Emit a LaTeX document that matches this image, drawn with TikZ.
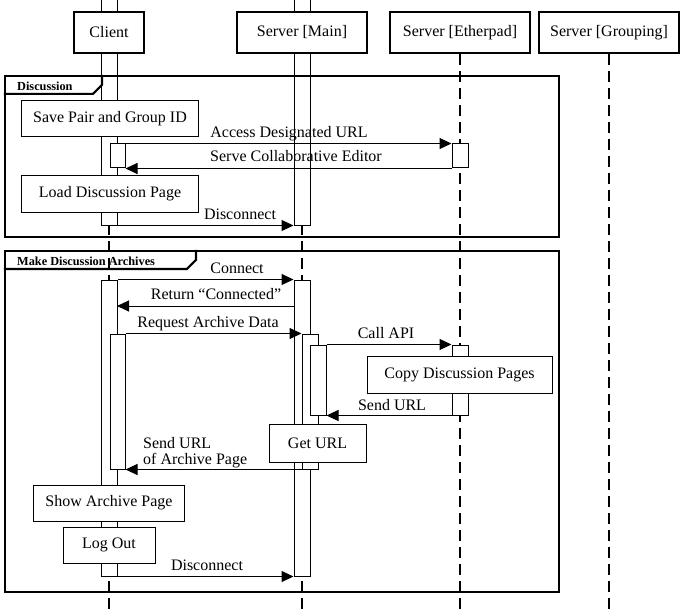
\documentclass[tikz,border=0pt]{standalone}
\usepackage{fontspec}
\setmainfont{Liberation Serif}
\usetikzlibrary{arrows.meta,fit}
\begin{document}
\begin{tikzpicture}[x=1bp,y=-1bp,
  lifeline/.style={line width=1.1bp, dash pattern=on 11bp off 6bp},
  bar/.style={draw, fill=white, line width=1bp, inner sep=0pt},
  frame/.style={draw, line width=2.1bp, inner sep=0pt},
  tabline/.style={line width=2.1bp},
  head/.style={draw, fill=white, line width=2.2bp, inner sep=0pt, font=\fontsize{16bp}{19bp}\selectfont, minimum height=41bp},
  act/.style={draw, fill=white, line width=1bp, inner sep=0pt, font=\fontsize{16bp}{19bp}\selectfont},
  msg/.style={line width=1bp, -{Triangle[length=12bp,width=11bp]}},
  lbl/.style={inner sep=0pt, font=\fontsize{16bp}{19bp}\selectfont, anchor=base},
  tabtext/.style={inner sep=0pt, font=\fontsize{12.3bp}{14bp}\selectfont\bfseries, anchor=west}
]
\useasboundingbox (0,0) rectangle (685,611);

% header box positions (drawn later)
\path (109,32.5) node[head, minimum width=70bp, draw=none, fill=none] (hC) {\phantom{Client}};
\path (302,32.5) node[head, minimum width=130bp, draw=none, fill=none] (hM) {\phantom{Server}};
\path (460,32.5) node[head, minimum width=140bp, draw=none, fill=none] (hE) {\phantom{Server}};
\path (609,32.5) node[head, minimum width=140bp, draw=none, fill=none] (hG) {\phantom{Server}};

% lifeline ends
\coordinate (eC) at (109,615);
\coordinate (eM) at (302,615);
\coordinate (eE) at (460,615);
\coordinate (eG) at (609,615);

% lifelines
\draw[lifeline] (hC.south) -- (eC);
\draw[lifeline] (hM.south) -- (eM);
\draw[lifeline] (hE.south) -- (eE);
\draw[lifeline] (hG.south) -- (eG);

% activation bars - Discussion
\node[bar, fit={(101,-4) (117,225)}] (bC1) {};
\node[bar, fit={(294,-4) (310,225)}] (bM1) {};
\node[bar, fit={(110,144) (125,168)}] (bCn1) {};
\node[bar, fit={(452,144) (468,168)}] (bE1) {};

% activation bars - Make Discussion Archives
\node[bar, fit={(101,280) (117,576)}] (bC2) {};
\node[bar, fit={(294,280) (310,576)}] (bM2) {};
\node[bar, fit={(110,334) (125,469)}] (bCn2) {};
\node[bar, fit={(302,334) (318,469)}] (bMn1) {};
\node[bar, fit={(310,345) (326,415)}] (bMn2) {};
\node[bar, fit={(452,345) (468,415)}] (bE2) {};

% frames
\node[frame, fit={(5,76) (559,237)}] (fr1) {};
\draw[tabline] (fr1.north west) ++(0,19) -- ++(89,0) -- ++(9,-9) -- ++(0,-10);
\node[tabtext] (t1) at (17,86) {Discussion};

\node[frame, fit={(5,251) (559,592)}] (fr2) {};
\draw[tabline] (fr2.north west) ++(0,19) -- ++(183,0) -- ++(9,-9) -- ++(0,-10);
\node[tabtext] (t2) at (17,261) {Make Discussion Archives};

% header boxes
\node[head, minimum width=70bp] (hC2) at (hC) {Client};
\node[head, minimum width=130bp] (hM2) at (hM) {Server [Main]};
\node[head, minimum width=140bp] (hE2) at (hE) {Server [Etherpad]};
\node[head, minimum width=140bp] (hG2) at (hG) {Server [Grouping]};

% messages: Discussion
\draw[msg] (bCn1.north east) -- (bE1.north west);
\draw[msg] (bE1.south west) -- (bCn1.south east);
\draw[msg] (bC1.south east) -- (bM1.south west);

% messages: Make Discussion Archives
\coordinate (rS) at (294,306);
\coordinate (rE) at (117,306);
\draw[msg] (bC2.north east) -- (bM2.north west);
\draw[msg] (rS) -- (rE);
\draw[msg] (bCn2.north east) -- (bMn1.north west);
\draw[msg] (bMn2.north east) -- (bE2.north west);
\draw[msg] (bE2.south west) -- (bMn2.south east);
\draw[msg] (bMn1.south west) -- (bCn2.south east);
\draw[msg] (bC2.south east) -- (bM2.south west);

% action boxes
\node[act, minimum width=176bp, minimum height=36bp] (save) at (110,119) {Save Pair and Group ID};
\node[act, minimum width=176bp, minimum height=36bp] (load) at (110,194) {Load Discussion Page};
\node[act, minimum width=185bp, minimum height=37bp] (copy) at (459.5,374.5) {Copy Discussion Pages};
\node[act, minimum width=97bp, minimum height=38bp] (geturl) at (317.5,443) {Get URL};
\node[act, minimum width=150bp, minimum height=36bp] (show) at (109,503) {Show Archive Page};
\node[act, minimum width=92bp, minimum height=36bp] (logout) at (109,545) {Log Out};

% message labels
\node[lbl] (l1) at (289,138) {Access Designated URL};
\node[lbl] (l2) at (296,162) {Serve Collaborative Editor};
\node[lbl] (l3) at (240,219) {Disconnect};
\node[lbl] (l4) at (237,273) {Connect};
\node[lbl] (l5) at (216,299) {Return “Connected”};
\node[lbl] (l6) at (208,327) {Request Archive Data};
\node[lbl] (l7) at (386,338) {Call API};
\node[lbl] (l8) at (392,410) {Send URL};
\node[inner sep=0pt, font=\fontsize{16bp}{15.5bp}\selectfont, align=left, anchor=north west] (l9) at (143,437.5) {Send URL\\of Archive Page};
\node[lbl] (l10) at (207,570) {Disconnect};
\end{tikzpicture}
\end{document}
